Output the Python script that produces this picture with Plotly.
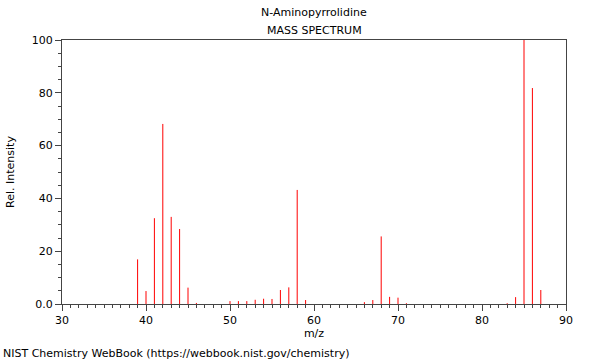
import plotly.graph_objects as go

title_lines = ["N-Aminopyrrolidine", "MASS SPECTRUM"]
mz = [39, 40, 41, 42, 43, 44, 45, 46, 50, 51, 52, 53, 54, 55, 56, 57, 58, 59,
      66, 67, 68, 69, 70, 71, 83, 84, 85, 86, 87]
intensity = [16.9, 4.9, 32.5, 68.2, 33.0, 28.4, 6.2, 0.4, 1.1, 1.1, 1.1, 1.6, 2.0, 1.9, 5.3, 6.3, 43.2, 1.5,
             0.7, 1.5, 25.6, 2.7, 2.4, 0.3, 0.3, 2.6, 100.0, 81.8, 5.3]
y_tickvals = [0, 20, 40, 60, 80, 100]
y_ticktext = ["0.0", "20", "40", "60", "80", "100"]
x_tickvals = [30, 40, 50, 60, 70, 80, 90]
footer = "NIST Chemistry WebBook (https://webbook.nist.gov/chemistry)"

xs, ys = [], []
for m, v in zip(mz, intensity):
    xs += [m, m, None]
    ys += [0, v, None]

fig = go.Figure(go.Scatter(x=xs, y=ys, mode="lines",
                           line=dict(color="#ff0000", width=1), hoverinfo="skip"))

W, H = 600, 360
l, r, t, b = 62, 34, 40, 56
pw, ph = W - l - r, H - t - b

axcol = "#444444"
font = dict(family="DejaVu Sans", size=11, color="#000000")
fig.update_layout(
    width=W, height=H,
    margin=dict(l=l, r=r, t=t, b=b, autoexpand=False),
    paper_bgcolor="white", plot_bgcolor="white",
    showlegend=False, font=font,
    xaxis=dict(range=[30, 90], tickvals=x_tickvals, ticks="outside", ticklen=6,
               tickcolor=axcol, showline=True, linecolor=axcol, linewidth=1, mirror=True,
               showgrid=False, zeroline=False,
               minor=dict(dtick=1, ticks="outside", ticklen=3, tickcolor=axcol, showgrid=False),
               title=dict(text="m/z", font=font, standoff=3)),
    yaxis=dict(range=[0, 100], tickvals=y_tickvals, ticktext=y_ticktext, ticks="outside", ticklen=6,
               tickcolor=axcol, showline=True, linecolor=axcol, linewidth=1, mirror=True,
               showgrid=False, zeroline=False,
               minor=dict(dtick=5, ticks="outside", ticklen=3, tickcolor=axcol, showgrid=False),
               title=dict(text="Rel. Intensity", font=font, standoff=14)),
)

def px_to_paper(xp, yp):
    return (xp - l) / pw, 1 - (yp - t) / ph

x0, y0 = px_to_paper(314, 13)
x1, y1 = px_to_paper(314, 30)
x2, y2 = px_to_paper(1, 353)
fig.add_annotation(text=title_lines[0], x=x0, y=y0, xref="paper", yref="paper", showarrow=False,
                   xanchor="center", yanchor="middle", font=font)
fig.add_annotation(text=title_lines[1], x=x1, y=y1, xref="paper", yref="paper", showarrow=False,
                   xanchor="center", yanchor="middle", font=font)
fig.add_annotation(text=footer, x=x2, y=y2,
                   xref="paper", yref="paper", showarrow=False, xanchor="left", yanchor="middle", font=font)

fig.write_html("out.html", config={"displayModeBar": False},
               post_script="document.body.style.margin='0px';")
